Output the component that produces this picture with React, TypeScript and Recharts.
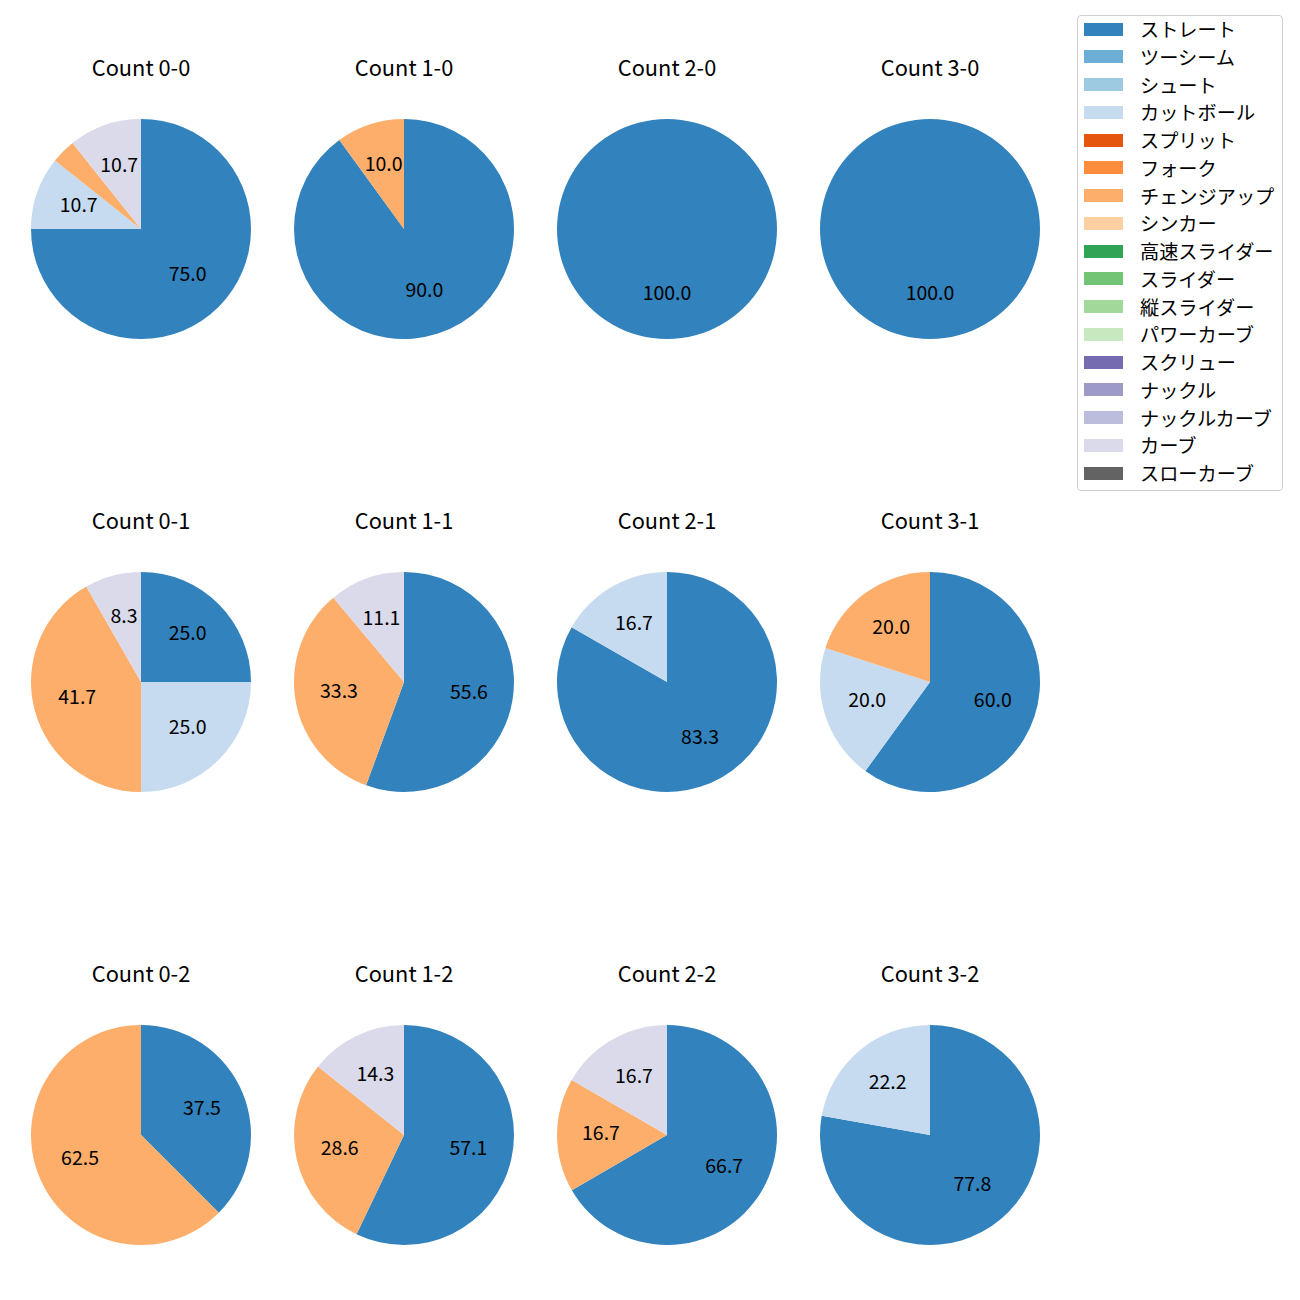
import React from 'react';
import { PieChart, Pie, Cell } from 'recharts';

const pitchTypes = [
    'ストレート', 'ツーシーム', 'シュート', 'カットボール', 'スプリット', 'フォーク',
    'チェンジアップ', 'シンカー', '高速スライダー', 'スライダー', '縦スライダー',
    'パワーカーブ', 'スクリュー', 'ナックル', 'ナックルカーブ', 'カーブ', 'スローカーブ',
];

const pitchColors = [
    '#3182bd', '#6baed6', '#9ecae1', '#c6dbef', '#e6550d', '#fd8d3c',
    '#fdae6b', '#fdd0a2', '#31a354', '#74c476', '#a1d99b',
    '#c7e9c0', '#756bb1', '#9e9ac8', '#bcbddc', '#dadaeb', '#636363',
];

// share (%) per pitch type, same order as pitchTypes
const c00 = [75.0, 0, 0, 10.7, 0, 0, 3.6, 0, 0, 0, 0, 0, 0, 0, 0, 10.7, 0];
const c10 = [90.0, 0, 0, 0, 0, 0, 10.0, 0, 0, 0, 0, 0, 0, 0, 0, 0, 0];
const c20 = [100.0, 0, 0, 0, 0, 0, 0, 0, 0, 0, 0, 0, 0, 0, 0, 0, 0];
const c30 = [100.0, 0, 0, 0, 0, 0, 0, 0, 0, 0, 0, 0, 0, 0, 0, 0, 0];
const c01 = [25.0, 0, 0, 25.0, 0, 0, 41.7, 0, 0, 0, 0, 0, 0, 0, 0, 8.3, 0];
const c11 = [55.6, 0, 0, 0, 0, 0, 33.3, 0, 0, 0, 0, 0, 0, 0, 0, 11.1, 0];
const c21 = [83.3, 0, 0, 16.7, 0, 0, 0, 0, 0, 0, 0, 0, 0, 0, 0, 0, 0];
const c31 = [60.0, 0, 0, 20.0, 0, 0, 20.0, 0, 0, 0, 0, 0, 0, 0, 0, 0, 0];
const c02 = [37.5, 0, 0, 0, 0, 0, 62.5, 0, 0, 0, 0, 0, 0, 0, 0, 0, 0];
const c12 = [57.1, 0, 0, 0, 0, 0, 28.6, 0, 0, 0, 0, 0, 0, 0, 0, 14.3, 0];
const c22 = [66.7, 0, 0, 0, 0, 0, 16.7, 0, 0, 0, 0, 0, 0, 0, 0, 16.7, 0];
const c32 = [77.8, 0, 0, 22.2, 0, 0, 0, 0, 0, 0, 0, 0, 0, 0, 0, 0, 0];

const countLabels = ['0-0', '1-0', '2-0', '3-0', '0-1', '1-1', '2-1', '3-1', '0-2', '1-2', '2-2', '3-2'];
const countShares = [c00, c10, c20, c30, c01, c11, c21, c31, c02, c12, c22, c32];

const FONT = '"Noto Sans CJK JP", "Noto Sans", sans-serif';
const colX = [141, 404, 667, 930];
const rowY = [229, 682, 1135];
const R = 110;
const BOX = 240;

const RAD = Math.PI / 180;

const renderLabel = (props: any) => {
    const { cx, cy, midAngle, outerRadius, value } = props;
    if (value < 5) return null;
    const r = outerRadius * 0.6;
    const x = cx + r * Math.cos(-midAngle * RAD);
    const y = cy + r * Math.sin(-midAngle * RAD) - 3.5;
    return (
        <text x={x} y={y} fill="#000" textAnchor="middle" dominantBaseline="central"
            style={{ fontFamily: FONT, fontSize: 19.5 }}>
            {Number(value).toFixed(1)}
        </text>
    );
};

const CountPie: React.FC<{ label: string; shares: number[]; x: number; y: number }> = ({ label, shares, x, y }) => {
    const data = shares
        .map((v, i) => ({ name: pitchTypes[i], value: v, color: pitchColors[i] }))
        .filter(d => d.value > 0);
    return (
        <>
            <div style={{
                position: 'absolute', left: x - 100, top: y - 162 - 15, width: 200, textAlign: 'center',
                fontFamily: FONT, fontSize: 21.8, lineHeight: '30px', color: '#000',
            }}>
                Count {label}
            </div>
            <div style={{ position: 'absolute', left: x - BOX / 2, top: y - BOX / 2 }}>
                <PieChart width={BOX} height={BOX} margin={{ top: 0, right: 0, bottom: 0, left: 0 }}>
                    <Pie data={data} dataKey="value" nameKey="name" cx={BOX / 2} cy={BOX / 2}
                        outerRadius={R} startAngle={90} endAngle={-270} stroke="none"
                        label={renderLabel} labelLine={false} isAnimationActive={false}>
                        {data.map(d => <Cell key={d.name} fill={d.color} />)}
                    </Pie>
                </PieChart>
            </div>
        </>
    );
};

const App: React.FC = () => {
    return (
        <div style={{ position: 'absolute', left: 0, top: 0, width: 1300, height: 1300, background: '#fff' }}>
            {countLabels.map((lbl, i) => (
                <CountPie key={lbl} label={lbl} shares={countShares[i]}
                    x={colX[i % 4]} y={rowY[Math.floor(i / 4)]} />
            ))}
            <div style={{
                position: 'absolute', left: 1077, top: 15, width: 206, height: 476,
                border: '1px solid #d0d0d0', borderRadius: 4, boxSizing: 'border-box', background: '#fff',
            }}>
                {pitchTypes.map((p, i) => (
                    <div key={p} style={{ position: 'absolute', left: 0, top: i * 27.75 - 1, height: 28, width: 204 }}>
                        <div style={{
                            position: 'absolute', left: 6, top: 7.5, width: 39, height: 13, background: pitchColors[i],
                        }} />
                        <div style={{
                            position: 'absolute', left: 62, top: 0, lineHeight: '28px',
                            fontFamily: FONT, fontSize: 19.2, color: '#000', whiteSpace: 'nowrap',
                        }}>{p}</div>
                    </div>
                ))}
            </div>
        </div>
    );
};

export default App;
